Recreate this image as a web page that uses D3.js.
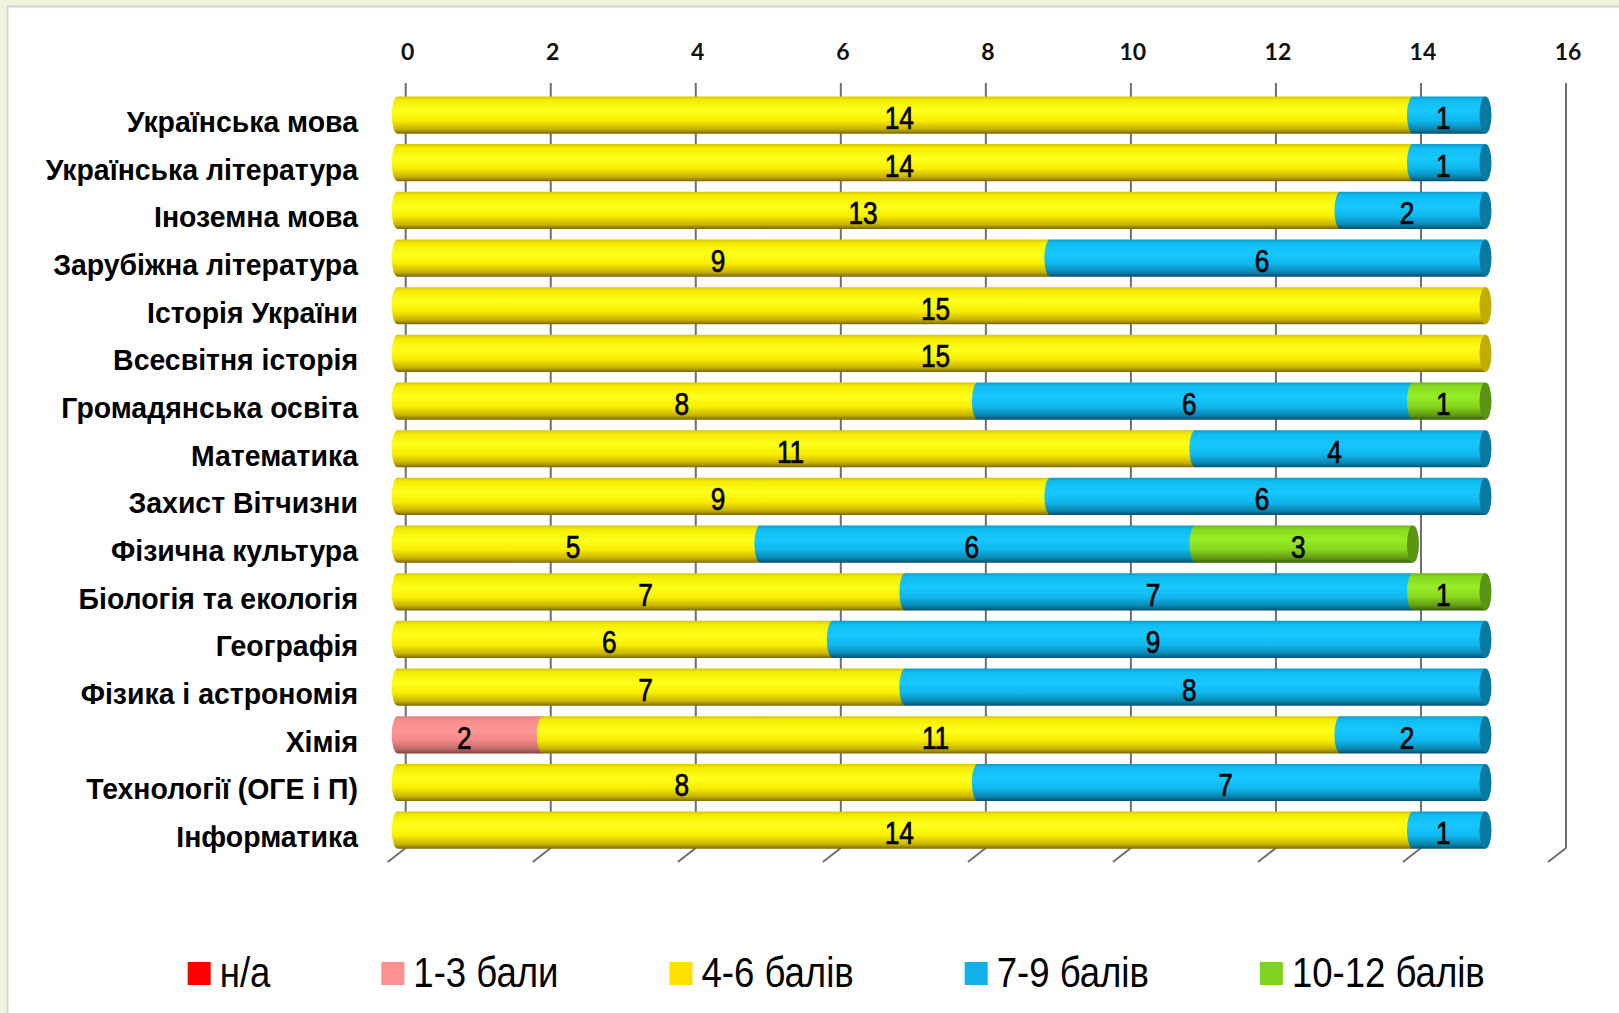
<!DOCTYPE html>
<html>
<head>
<meta charset="utf-8">
<script src="https://cdn.jsdelivr.net/npm/d3@7"></script>
<style>
  body { margin: 0; background: #eef5dc; }
  .narrow { font-family: "Liberation Sans", Arial, sans-serif; }
  .tick-lbl { font-family: Lato, "Open Sans", sans-serif; font-weight: 700; font-size: 23px; fill: #111; }
</style>
</head>
<body>
<div id="chart"></div>
<script>
// grades per subject, stacked

var subjects = ['Українська мова', 'Українська література', 'Іноземна мова', 'Зарубіжна література',
                'Історія України', 'Всесвітня історія', 'Громадянська освіта', 'Математика',
                'Захист Вітчизни', 'Фізична культура', 'Біологія та екологія', 'Географія',
                'Фізика і астрономія', 'Хімія', 'Технології (ОГЕ і П)', 'Інформатика']

var seriesNames = ['н/а', '1-3 бали', '4-6 балів', '7-9 балів', '10-12 балів']

var naVals    = [0, 0, 0, 0, 0, 0, 0, 0, 0, 0, 0, 0, 0, 0, 0, 0]
var lowVals   = [0, 0, 0, 0, 0, 0, 0, 0, 0, 0, 0, 0, 0, 2, 0, 0]
var midVals   = [14, 14, 13, 9, 15, 15, 8, 11, 9, 5, 7, 6, 7, 11, 8, 14]
var goodVals  = [1, 1, 2, 6, 0, 0, 6, 4, 6, 6, 7, 9, 8, 2, 7, 1]
var highVals  = [0, 0, 0, 0, 0, 0, 1, 0, 0, 3, 1, 0, 0, 0, 0, 0]

var xTicks = [0, 2, 4, 6, 8, 10, 12, 14, 16]

var width = 1619,
    height = 1013,
    depthX = 14,      // 3d shift of bars in front of the back wall
    capRx = 6,
    wallTop = 83,
    wallBottom = 848,
    squeeze = 0.82,   // no narrow font installed, so squash the regular one
    catSqueeze = 0.98,
    keySqueeze = 0.85

// colours: gradient stops, end cap, legend key
var palette = [
  {stops: ['#d00000', '#f00000', '#ff2020', '#ee0000', '#b00000', '#700000'], cap: '#b00000', key: '#ff0000'},
  {stops: ['#de7c7c', '#f88d8d', '#ff9898', '#f28787', '#c06a6a', '#7c4343'], cap: '#c46a6a', key: '#ff9090'},
  {stops: ['#d8c600', '#f4ec00', '#ffff1c', '#f8ee00', '#c8b200', '#7a6800'], cap: '#c2ac00', key: '#ffe000'},
  {stops: ['#0a9ccc', '#10bdf2', '#16c8ff', '#10b8ee', '#0a86b0', '#05506c'], cap: '#0b7aa2', key: '#10b0e8'},
  {stops: ['#6cb418', '#86da1e', '#96ee26', '#86d41e', '#5f9a12', '#3a5e0a'], cap: '#5a9412', key: '#80d420'}
]
var stopOffsets = [0, 0.1, 0.38, 0.65, 0.88, 1]

var allSeries = [naVals, lowVals, midVals, goodVals, highVals]

var xScale = d3.scaleLinear()
    .domain([0, 16])
    .range([405.7, 1566])

var yScale = d3.scaleBand()
    .domain(subjects)
    .range([91.2, 854])
    .paddingInner(0.22)
    .paddingOuter(0.11)

// stacked layout built from the arrays
var rows = subjects.map(function(s, i){
  var r = {subject: s}
  seriesNames.forEach(function(n, k){ r[n] = allSeries[k][i] })
  return r
})
var stacked = d3.stack().keys(seriesNames)(rows)

var svg = d3.select('#chart')
  .append('svg')
    .attr('width', width)
    .attr('height', height)

// slide background + chart area
svg.append('rect')
   .attr('width', width).attr('height', height)
   .style('fill', '#eef5dc')
svg.append('rect')
   .attr('x', 7.5).attr('y', 6.5)
   .attr('width', width).attr('height', height)
   .style('fill', '#fff')
   .style('stroke', '#d4d4d4')
   .style('stroke-width', 2)

var defs = svg.append('defs')
palette.forEach(function(p, k){
  var g = defs.append('linearGradient')
      .attr('id', 'cyl' + k)
      .attr('x1', 0).attr('y1', 0).attr('x2', 0).attr('y2', 1)
  p.stops.forEach(function(c, j){
    g.append('stop').attr('offset', stopOffsets[j]).attr('stop-color', c)
  })
})

// back wall gridlines
svg.selectAll('line.grid').data(xTicks)
  .enter().append('line')
    .classed('grid', true)
    .attr('x1', function(d){ return xScale(d) })
    .attr('x2', function(d){ return xScale(d) })
    .attr('y1', wallTop)
    .attr('y2', wallBottom)
    .style('stroke', '#6e6e6e')
    .style('stroke-width', 2)

// floor ticks
svg.selectAll('line.floor').data(xTicks)
  .enter().append('line')
    .classed('floor', true)
    .attr('x1', function(d){ return xScale(d) })
    .attr('x2', function(d){ return xScale(d) - 18 })
    .attr('y1', wallBottom)
    .attr('y2', wallBottom + 14)
    .style('stroke', '#6e6e6e')
    .style('stroke-width', 2)

svg.selectAll('text.tick-lbl').data(xTicks)
  .enter().append('text')
    .classed('tick-lbl', true)
    .attr('text-anchor', 'middle')
    .attr('x', function(d){ return xScale(d) + 2 })
    .attr('y', 60)
    .text(function(d){ return d })

// bar segments
var bh = yScale.bandwidth()
var lastKey = rows.map(function(r){
  var last = 0
  seriesNames.forEach(function(n, k){ if (r[n] > 0) last = k })
  return last
})

stacked.forEach(function(layer, k){
  var seg = svg.append('g').selectAll('path')
    .data(layer.map(function(d, i){ return {d: d, i: i} }).filter(function(o){ return o.d[1] > o.d[0] }))
    .enter()

  seg.append('path')
    .attr('d', function(o){
      var xs = xScale(o.d[0]) - depthX,
          xe = xScale(o.d[1]) - depthX + capRx,
          y0 = yScale(subjects[o.i]),
          y1 = y0 + bh
      return 'M' + (xs + capRx) + ',' + y0 + 'L' + xe + ',' + y0 + 'L' + xe + ',' + y1 +
             'L' + (xs + capRx) + ',' + y1 + 'A' + capRx + ',' + (bh / 2) + ' 0 0 1 ' + (xs + capRx) + ',' + y0 + 'Z'
    })
    .style('fill', 'url(#cyl' + k + ')')

  seg.filter(function(o){ return lastKey[o.i] === k })
    .append('ellipse')
      .attr('cx', function(o){ return xScale(o.d[1]) - depthX + capRx })
      .attr('cy', function(o){ return yScale(subjects[o.i]) + bh / 2 })
      .attr('rx', capRx)
      .attr('ry', bh / 2)
      .style('fill', palette[k].cap)
})

// value labels
stacked.forEach(function(layer, k){
  svg.append('g').selectAll('text')
    .data(layer.map(function(d, i){ return {d: d, i: i} }).filter(function(o){ return o.d[1] > o.d[0] }))
    .enter().append('text')
      .classed('narrow', true)
      .attr('text-anchor', 'middle')
      .attr('transform', function(o){
        var x = (xScale(o.d[0]) + xScale(o.d[1])) / 2 - depthX,
            y = yScale(subjects[o.i]) + bh / 2 + 14
        return 'translate(' + x + ',' + y + ') scale(' + squeeze + ',1)'
      })
      .style('font-size', '32px')
      .style('fill', '#000')
      .style('stroke', '#000')
      .style('stroke-width', 0.7)
      .text(function(o){ return o.d[1] - o.d[0] })
})

// category labels
svg.selectAll('text.cat').data(subjects)
  .enter().append('text')
    .classed('cat narrow', true)
    .attr('text-anchor', 'end')
    .attr('transform', function(d){
      return 'translate(358,' + (yScale(d) + bh / 2 + 17) + ') scale(' + catSqueeze + ',1)'
    })
    .style('font-size', '29px')
    .style('font-weight', 'bold')
    .style('fill', '#000')
    .text(function(d){ return d })

// legend
var lx = 187.7
seriesNames.forEach(function(n, k){
  var item = svg.append('g').attr('transform', 'translate(' + lx + ',0)')
  item.append('rect')
    .attr('x', 0).attr('y', 962)
    .attr('width', 23).attr('height', 23)
    .style('fill', palette[k].key)
  var t = item.append('text')
    .classed('narrow', true)
    .attr('transform', 'translate(32,987) scale(' + keySqueeze + ',1)')
    .style('font-size', '43px')
    .style('fill', '#000')
    .text(n)
  lx += 32 + t.node().getComputedTextLength() * keySqueeze + 111
})
</script>
</body>
</html>
